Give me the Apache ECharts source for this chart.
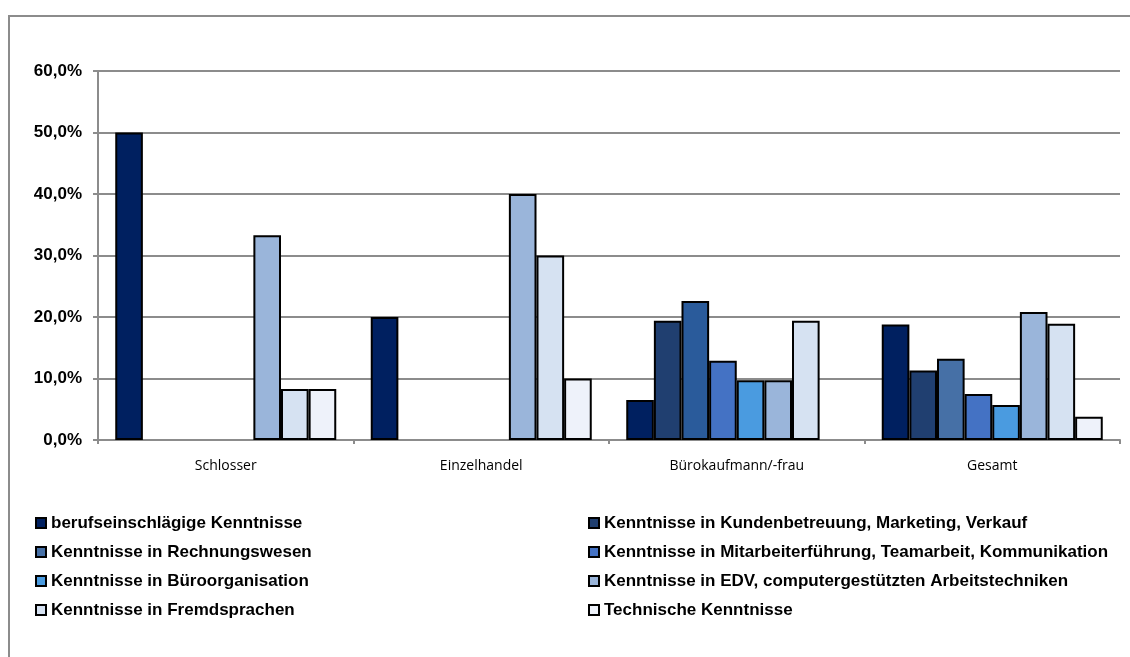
<!DOCTYPE html>
<html>
<head>
<meta charset="utf-8">
<script src="https://cdn.jsdelivr.net/npm/echarts@6/dist/echarts.min.js"></script>
<style>
  html, body { margin: 0; padding: 0; background: #fff; }
  #chart { width: 1130px; height: 657px; }
</style>
</head>
<body>
<div id="chart"></div>
<script>
// Kategorien
var categories = ['Schlosser', 'Einzelhandel', 'Bürokaufmann/-frau', 'Gesamt'];

// Serien (Anteil in %)
var seriesNames = [
    'berufseinschlägige Kenntnisse',
    'Kenntnisse in Kundenbetreuung, Marketing, Verkauf',
    'Kenntnisse in Rechnungswesen',
    'Kenntnisse in Mitarbeiterführung, Teamarbeit, Kommunikation',
    'Kenntnisse in Büroorganisation',
    'Kenntnisse in EDV, computergestützten Arbeitstechniken',
    'Kenntnisse in Fremdsprachen',
    'Technische Kenntnisse'
];
var berufseinschlaegig = [50.0, 20.0, 6.5, 18.8];
var kundenbetreuung   = [0, 0, 19.4, 11.3];
var rechnungswesen    = [0, 0, 22.6, 13.2];
var mitarbeiter       = [0, 0, 12.9, 7.5];
var bueroorganisation = [0, 0, 9.7, 5.7];
var edv               = [33.3, 40.0, 9.7, 20.8];
var fremdsprachen     = [8.3, 30.0, 19.4, 18.9];
var technisch         = [8.3, 10.0, 0, 3.8];

// Y-Achse
var yTicks = [0, 10, 20, 30, 40, 50, 60];

var colors = ['#002060', '#203F70', '#4670A6', '#4472C4', '#4A9BE0', '#9AB5DA', '#D6E2F2', '#EEF2FA'];
var values = [berufseinschlaegig, kundenbetreuung, rechnungswesen, mitarbeiter,
              bueroorganisation, edv, fremdsprachen, technisch];

var chart = echarts.init(document.getElementById('chart'));

var series = seriesNames.map(function (name, i) {
    return {
        name: name,
        type: 'bar',
        barGap: 0,
        barCategoryGap: '13.5%',
        itemStyle: { color: colors[i], borderColor: '#000', borderWidth: 2 },
        data: values[i].map(function (v, j) {
            // 0 -> kein Balken (sonst schwarzer Strich auf der Achse)
            if (v === 0) return '-';
            // Rechnungswesen bei Bürokaufmann etwas dunkler eingefärbt
            if (i === 2 && j === 2) {
                return { value: v, itemStyle: { color: '#2A5B9B' } };
            }
            return v;
        })
    };
});

var legendText = {
    fontFamily: 'Liberation Sans, Arial, sans-serif',
    fontWeight: 'bold',
    fontSize: 17,
    lineHeight: 18,
    color: '#000'
};

var legendBase = {
    orient: 'vertical',
    top: 509,
    itemWidth: 10,
    itemHeight: 10,
    itemGap: 11,
    icon: 'rect',
    itemStyle: { borderColor: '#000', borderWidth: 2 },
    textStyle: legendText
};

var option = {
    animation: false,
    color: colors,
    graphic: [{
        type: 'rect',
        shape: { x: 9, y: 16, width: 1200, height: 700 },
        style: { fill: 'none', stroke: '#8C8C8C', lineWidth: 2 },
        silent: true
    }],
    grid: { left: 98, right: 10, top: 71, bottom: 217 },
    legend: [
        Object.assign({}, legendBase, {
            left: 30,
            data: [seriesNames[0], seriesNames[2], seriesNames[4], seriesNames[6]]
        }),
        Object.assign({}, legendBase, {
            left: 583,
            data: [seriesNames[1], seriesNames[3], seriesNames[5], seriesNames[7]]
        })
    ],
    xAxis: {
        type: 'category',
        data: categories,
        axisLine: { lineStyle: { color: '#8C8C8C', width: 2 } },
        axisTick: { show: true, length: 4, lineStyle: { color: '#8C8C8C', width: 2 } },
        axisLabel: { color: '#000', fontFamily: 'Open Sans, sans-serif', fontSize: 14, margin: 19 }
    },
    yAxis: {
        type: 'value',
        min: yTicks[0],
        max: yTicks[yTicks.length - 1],
        interval: 10,
        axisLine: { show: true, lineStyle: { color: '#8C8C8C', width: 2 } },
        axisTick: { show: true, length: 5, lineStyle: { color: '#8C8C8C', width: 2 } },
        splitLine: { lineStyle: { color: '#8C8C8C', width: 2 } },
        axisLabel: {
            color: '#000',
            fontFamily: 'Liberation Sans, Arial, sans-serif',
            fontWeight: 'bold',
            fontSize: 17,
            margin: 16,
            formatter: function (v) {
                return v.toFixed(1).replace('.', ',') + '%';
            }
        }
    },
    series: series
};

chart.setOption(option);
</script>
</body>
</html>
